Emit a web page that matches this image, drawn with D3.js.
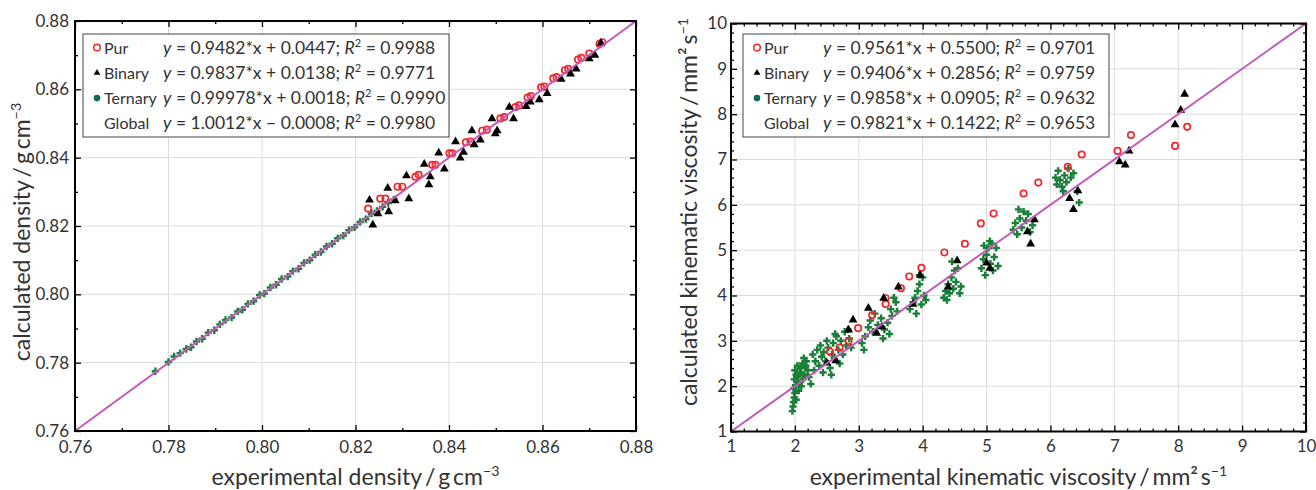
<!DOCTYPE html>
<html>
<head>
<meta charset="utf-8">
<script src="https://cdn.jsdelivr.net/npm/d3@7"></script>
<style>
  body { margin: 0; background: #fff; }
  svg { font-family: Lato, "Open Sans", sans-serif; }
</style>
</head>
<body>
<div id="viz"></div>
<script>
// ---- density panel data [experimental, calculated] ----
const densPur = [
  [0.8227, 0.8251], [0.8253, 0.8280], [0.8264, 0.8280], [0.8290, 0.8315], [0.8300, 0.8315],
  [0.8328, 0.8344], [0.8335, 0.8350], [0.8364, 0.8379], [0.8371, 0.8379], [0.8401, 0.8413],
  [0.8407, 0.8413], [0.8436, 0.8445], [0.8446, 0.8447], [0.8471, 0.8479], [0.8481, 0.8482],
  [0.8510, 0.8515], [0.8518, 0.8519], [0.8542, 0.8548], [0.8550, 0.8553], [0.8568, 0.8576],
  [0.8575, 0.8580], [0.8597, 0.8606], [0.8604, 0.8608], [0.8623, 0.8632], [0.8630, 0.8636],
  [0.8648, 0.8656], [0.8655, 0.8660], [0.8676, 0.8687], [0.8683, 0.8692], [0.8700, 0.8705],
  [0.8722, 0.8733], [0.8728, 0.8738]
];
const densBinary = [
  [0.8230, 0.8276], [0.8237, 0.8203], [0.8248, 0.8236], [0.8269, 0.8311], [0.8271, 0.8242],
  [0.8285, 0.8274], [0.8309, 0.8347], [0.8314, 0.8280], [0.8347, 0.8381], [0.8357, 0.8321],
  [0.8360, 0.8344], [0.8378, 0.8414], [0.8390, 0.8367], [0.8414, 0.8447], [0.8424, 0.8399],
  [0.8431, 0.8416], [0.8449, 0.8479], [0.8454, 0.8438], [0.8467, 0.8452], [0.8492, 0.8514],
  [0.8499, 0.8470], [0.8503, 0.8479], [0.8529, 0.8548], [0.8538, 0.8514], [0.8565, 0.8550],
  [0.8574, 0.8563], [0.8593, 0.8570], [0.8610, 0.8588], [0.8640, 0.8630], [0.8660, 0.8645],
  [0.8672, 0.8660], [0.8700, 0.8690], [0.8712, 0.8700], [0.8725, 0.8735]
];
const densTernary = [
  [0.7772, 0.7775], [0.7800, 0.7802], [0.7812, 0.7818], [0.7825, 0.7828], [0.7838, 0.7840],
  [0.7848, 0.7845], [0.7860, 0.7862], [0.7872, 0.7870], [0.7885, 0.7888], [0.7898, 0.7895],
  [0.7910, 0.7912], [0.7922, 0.7925], [0.7935, 0.7932], [0.7948, 0.7950], [0.7958, 0.7955],
  [0.7970, 0.7972], [0.7982, 0.7980], [0.7995, 0.7998], [0.8005, 0.8002], [0.8018, 0.8020],
  [0.8030, 0.8028], [0.8042, 0.8045], [0.8055, 0.8052], [0.8066, 0.8068], [0.8078, 0.8075],
  [0.8090, 0.8092], [0.8102, 0.8100], [0.8114, 0.8116], [0.8126, 0.8124], [0.8138, 0.8140],
  [0.8150, 0.8148], [0.8162, 0.8164], [0.8174, 0.8172], [0.8186, 0.8188], [0.8198, 0.8196],
  [0.8210, 0.8212], [0.8222, 0.8220], [0.8234, 0.8236], [0.8246, 0.8244], [0.8258, 0.8256],
  [0.8270, 0.8268], [0.8282, 0.8278]
];
const densTicks = [0.76, 0.78, 0.80, 0.82, 0.84, 0.86, 0.88];
const densMinor = [0.77, 0.79, 0.81, 0.83, 0.85, 0.87];
const densLegend = [
  ["Pur", "0.9482*x + 0.0447", "0.9988"],
  ["Binary", "0.9837*x + 0.0138", "0.9771"],
  ["Ternary", "0.99978*x + 0.0018", "0.9990"],
  ["Global", "1.0012*x \u2212 0.0008", "0.9980"]
];

// ---- viscosity panel data [experimental, calculated] ----
const viscPur = [
  [2.55, 2.76], [2.70, 2.85], [2.84, 3.00], [2.99, 3.28], [3.21, 3.57], [3.42, 3.81],
  [3.42, 3.94], [3.66, 4.16], [3.79, 4.42], [3.98, 4.61], [4.34, 4.95], [4.66, 5.14],
  [4.91, 5.59], [5.11, 5.81], [5.58, 6.25], [5.81, 6.49], [6.27, 6.84], [6.49, 7.11],
  [7.05, 7.19], [7.26, 7.54], [7.95, 7.30], [8.14, 7.72]
];
const viscBinary = [
  [2.50, 2.51], [2.64, 2.56], [2.84, 3.24], [2.91, 3.46], [3.15, 3.72], [3.28, 3.17],
  [3.36, 3.31], [3.39, 3.94], [3.62, 4.19], [3.85, 3.81], [3.96, 4.45], [4.40, 4.19],
  [4.54, 4.77], [5.00, 4.72], [5.05, 4.60], [5.64, 5.41], [5.75, 5.67], [5.69, 5.14],
  [6.30, 6.14], [6.36, 5.90], [6.43, 6.31], [7.08, 6.95], [7.17, 6.88], [7.23, 7.19],
  [7.95, 7.77], [8.04, 8.09], [8.10, 8.44]
];
const viscTernary = [
  [1.96, 1.45], [1.97, 1.55], [1.98, 1.65], [1.99, 1.75], [2.00, 1.85], [1.98, 1.95],
  [2.01, 2.02], [2.03, 2.10], [1.99, 2.15], [2.05, 2.20], [2.02, 2.25], [2.08, 2.30],
  [2.00, 2.35], [2.10, 2.40], [2.04, 2.45], [2.12, 2.50], [2.07, 2.05], [2.13, 2.15],
  [2.15, 2.25], [2.20, 2.35], [2.18, 2.55], [2.06, 1.90], [2.10, 2.00], [2.02, 1.70],
  [2.14, 2.62], [2.22, 2.20], [2.25, 2.05], [2.17, 2.45],
  [2.28, 2.70], [2.32, 2.55], [2.35, 2.80], [2.38, 2.45], [2.40, 2.90], [2.42, 2.65],
  [2.45, 2.75], [2.48, 2.55], [2.50, 3.00], [2.52, 2.85], [2.55, 2.40], [2.58, 2.70],
  [2.60, 2.95], [2.62, 2.60], [2.65, 3.10], [2.68, 2.80], [2.70, 2.50], [2.72, 3.00],
  [2.75, 2.70], [2.78, 3.20], [2.80, 2.90], [2.83, 3.25], [2.85, 3.05], [2.88, 2.85],
  [2.30, 2.35], [2.44, 2.30], [2.63, 3.15], [2.57, 2.25],
  [3.05, 2.95], [3.08, 2.80], [3.10, 3.10], [3.15, 3.30], [3.18, 3.45], [3.22, 3.20],
  [3.25, 3.60], [3.30, 3.35], [3.35, 3.50], [3.40, 3.25], [3.45, 3.40], [3.50, 3.70],
  [3.52, 3.55], [3.55, 3.95], [3.58, 3.85], [3.48, 3.15], [3.60, 3.65], [3.38, 3.05],
  [3.80, 3.70], [3.85, 3.85], [3.88, 3.95], [3.92, 4.10], [3.95, 4.25], [4.00, 4.40],
  [4.02, 4.00], [3.98, 3.80], [3.90, 3.60], [4.05, 3.90], [3.95, 4.45],
  [4.33, 3.95], [4.36, 4.10], [4.40, 4.25], [4.42, 4.05], [4.45, 4.40], [4.48, 4.15],
  [4.50, 4.55], [4.52, 4.30], [4.55, 4.60], [4.58, 4.05], [4.60, 4.20], [4.38, 3.90],
  [4.46, 4.75],
  [4.92, 4.60], [4.95, 4.80], [4.98, 4.45], [5.00, 4.90], [5.03, 5.05], [5.06, 4.70],
  [5.08, 5.15], [5.10, 4.55], [5.12, 4.85], [5.15, 5.05], [5.18, 4.65], [4.96, 5.10],
  [5.05, 5.20],
  [5.42, 5.45], [5.45, 5.60], [5.48, 5.35], [5.52, 5.70], [5.55, 5.50], [5.58, 5.85],
  [5.62, 5.65], [5.65, 5.80], [5.68, 5.40], [5.72, 5.55], [5.50, 5.90],
  [6.08, 6.60], [6.10, 6.45], [6.12, 6.75], [6.15, 6.55], [6.18, 6.40], [6.22, 6.65],
  [6.25, 6.50], [6.28, 6.80], [6.32, 6.60], [6.36, 6.70], [6.42, 6.30], [6.45, 6.05],
  [6.20, 6.30]
];
const viscTicks = [1, 2, 3, 4, 5, 6, 7, 8, 9, 10];
const viscMinor = d3.range(1, 10.001, 0.2).filter(v => Math.abs(v - Math.round(v)) > 0.01);
const viscLegend = [
  ["Pur", "0.9561*x + 0.5500", "0.9701"],
  ["Binary", "0.9406*x + 0.2856", "0.9759"],
  ["Ternary", "0.9858*x + 0.0905", "0.9632"],
  ["Global", "0.9821*x + 0.1422", "0.9653"]
];

const COL_PUR = "#f0282d";
const COL_TERN = "#1a7f38";
const COL_LINE = "#c25ab9";

const svg = d3.select("#viz").append("svg").attr("width", 1316).attr("height", 490);

// text with a superscript part
function supText(sel, base, sup, tail) {
  sel.append("tspan").text(base);
  sel.append("tspan").attr("font-size", "0.62em").attr("dy", "-0.6em").text(sup);
  if (tail) sel.append("tspan").attr("dy", "0.6em").text(tail);
}

function panel(opts) {
  const { left, right, top, bottom, domain, ticks, minor, fmt, pur, binary, ternary, legend, legX } = opts;
  const x = d3.scaleLinear().domain(domain).range([left, right]);
  const y = d3.scaleLinear().domain(domain).range([bottom, top]);
  const g = svg.append("g");

  // grid
  g.append("g").selectAll("line.gx").data(ticks).join("line")
    .attr("x1", d => x(d)).attr("x2", d => x(d)).attr("y1", top).attr("y2", bottom)
    .attr("stroke", "#dcdcdc").attr("stroke-width", 1);
  g.append("g").selectAll("line.gy").data(ticks).join("line")
    .attr("y1", d => y(d)).attr("y2", d => y(d)).attr("x1", left).attr("x2", right)
    .attr("stroke", "#dcdcdc").attr("stroke-width", 1);

  // points
  g.append("g").selectAll("path").data(ternary).join("path")
    .attr("d", d3.symbol(d3.symbolCross, 30))
    .attr("transform", d => `translate(${x(d[0])},${y(d[1])})`)
    .attr("fill", COL_TERN);
  g.append("g").selectAll("circle").data(pur).join("circle")
    .attr("cx", d => x(d[0])).attr("cy", d => y(d[1])).attr("r", 3.2)
    .attr("fill", "none").attr("stroke", COL_PUR).attr("stroke-width", 1.7);
  g.append("g").selectAll("path").data(binary).join("path")
    .attr("d", d3.symbol(d3.symbolTriangle, 34))
    .attr("transform", d => `translate(${x(d[0])},${y(d[1])})`)
    .attr("fill", "#000");

  // y = x line
  g.append("line")
    .attr("x1", x(domain[0])).attr("y1", y(domain[0]))
    .attr("x2", x(domain[1])).attr("y2", y(domain[1]))
    .attr("stroke", COL_LINE).attr("stroke-width", 2);

  // axes (ticks inward on all sides)
  const mk = (axis, pos, size, labels, vals) => {
    const a = axis.tickValues(vals).tickSize(-size).tickPadding(labels ? opts.pad : 0);
    a.tickFormat(labels ? fmt : "");
    const ag = g.append("g").attr("transform", pos).call(a);
    ag.select(".domain").remove();
    ag.selectAll("line").attr("stroke", "#000").attr("stroke-width", 1.3);
    ag.selectAll("text").attr("font-size", 17).attr("fill", "#333").attr("font-family", "Lato, sans-serif");
    return ag;
  };
  mk(d3.axisBottom(x), `translate(0,${bottom})`, 6, true, ticks).selectAll("text").attr("dy", "0.95em");
  mk(d3.axisBottom(x), `translate(0,${bottom})`, 3, false, minor);
  mk(d3.axisTop(x), `translate(0,${top})`, 6, false, ticks);
  mk(d3.axisTop(x), `translate(0,${top})`, 3, false, minor);
  mk(d3.axisLeft(y), `translate(${left},0)`, 6, true, ticks);
  mk(d3.axisLeft(y), `translate(${left},0)`, 3, false, minor);
  mk(d3.axisRight(y), `translate(${right},0)`, 6, false, ticks);
  mk(d3.axisRight(y), `translate(${right},0)`, 3, false, minor);

  // frame
  g.append("rect").attr("x", left).attr("y", top).attr("width", right - left).attr("height", bottom - top)
    .attr("fill", "none").attr("stroke", "#000").attr("stroke-width", 2);

  // legend
  const lg = g.append("g").attr("transform", `translate(${legX},34)`);
  lg.append("rect").attr("width", 366).attr("height", 103)
    .attr("fill", "#fff").attr("stroke", "#444").attr("stroke-width", 1);
  legend.forEach((row, i) => {
    const cy = 13.5 + i * 25.3;
    if (i === 0) lg.append("circle").attr("cx", 14).attr("cy", cy).attr("r", 3.3)
      .attr("fill", "none").attr("stroke", COL_PUR).attr("stroke-width", 1.5);
    if (i === 1) lg.append("path").attr("d", d3.symbol(d3.symbolTriangle, 20))
      .attr("transform", `translate(14,${cy})`).attr("fill", "#000");
    if (i === 2) lg.append("circle").attr("cx", 14).attr("cy", cy).attr("r", 3.3).attr("fill", "#0b6a5c");
    lg.append("text").attr("x", 21).attr("y", cy + 6).attr("font-size", 16).attr("fill", "#333").text(row[0]);
    const t = lg.append("text").attr("x", 80).attr("y", cy + 6).attr("font-size", 17.5).attr("fill", "#333");
    t.append("tspan").attr("font-style", "italic").text("y");
    t.append("tspan").text(` = ${row[1]}; `);
    t.append("tspan").attr("font-style", "italic").text("R");
    t.append("tspan").attr("font-size", 11).attr("dy", -7).text("2");
    t.append("tspan").attr("dy", 7).text(` = ${row[2]}`);
  });

  // axis titles
  const xt = svg.append("text").attr("x", (left + right) / 2).attr("y", 485)
    .attr("text-anchor", "middle").attr("font-size", 23).attr("fill", "#333");
  supText(xt, opts.xTitle, opts.xSup);
  const yt = svg.append("text")
    .attr("transform", `translate(${opts.yTitleX},${opts.yTitleY}) rotate(-90)`)
    .attr("text-anchor", "middle").attr("font-size", 23).attr("fill", "#333");
  supText(yt, opts.yTitle, opts.ySup);
}

panel({
  left: 75, right: 636, top: 21, bottom: 431, domain: [0.76, 0.88],
  ticks: densTicks, minor: densMinor, fmt: d3.format(".2f"), pad: 6,
  pur: densPur, binary: densBinary, ternary: densTernary, legend: densLegend, legX: 83,
  xTitle: "experimental density\u2009/\u2009g\u2009cm", xSup: "\u22123",
  yTitle: "calculated density\u2009/\u2009g\u2009cm", ySup: "\u22123", yTitleX: 30, yTitleY: 232
});

panel({
  left: 731, right: 1306, top: 23.5, bottom: 431.5, domain: [1, 10],
  ticks: viscTicks, minor: viscMinor, fmt: d3.format("d"), pad: 4,
  pur: viscPur, binary: viscBinary, ternary: viscTernary, legend: viscLegend, legX: 743,
  xTitle: "experimental kinematic viscosity\u2009/\u2009mm\u00b2\u2009s", xSup: "\u22121",
  yTitle: "calculated kinematic viscosity\u2009/\u2009mm\u00b2\u2009s", ySup: "\u22121", yTitleX: 697, yTitleY: 212
});
</script>
</body>
</html>
